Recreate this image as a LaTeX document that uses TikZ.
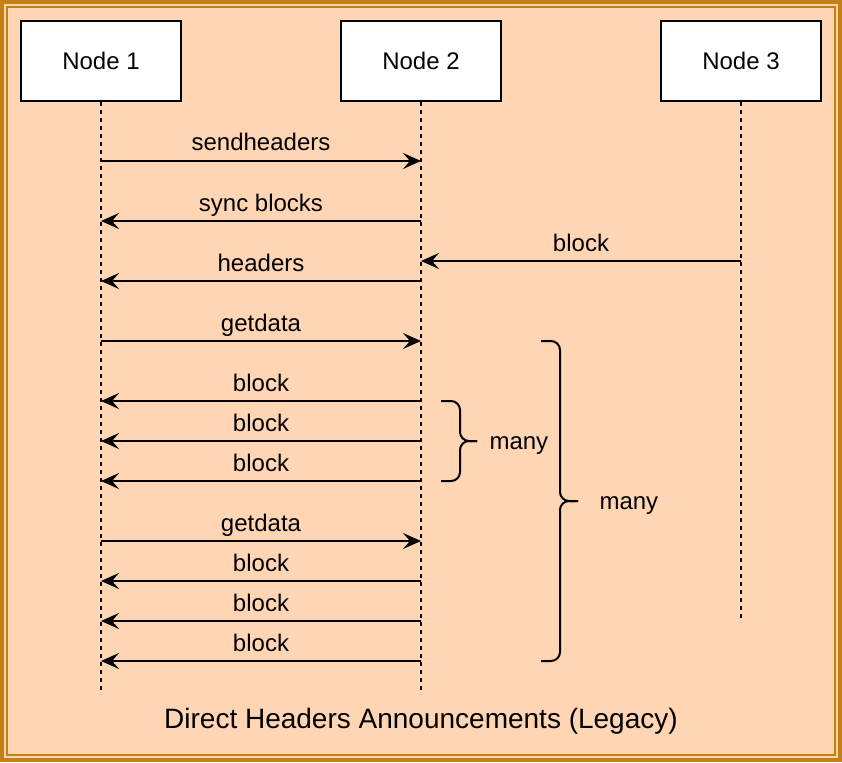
\documentclass[tikz,border=0pt]{standalone}
\usepackage{fontspec}
\setmainfont{Liberation Sans}
\usetikzlibrary{arrows.meta, positioning}
\definecolor{dhpeach}{HTML}{FFD5B3}
\definecolor{dhframe}{HTML}{C47F15}

\begin{document}
\begin{tikzpicture}[x=1pt, y=-1pt, every node/.style={font=\fontsize{24}{28}\selectfont},
    actor/.style={rectangle, draw, line width=2pt, fill=white, minimum width=160pt, minimum height=80pt},
    life/.style={line width=2pt, dash pattern=on 4pt off 4pt},
    msg/.style={line width=2pt, -{Stealth[length=18pt, width=16pt, inset=7pt]}},
    msglabel/.style={midway, anchor=base, yshift=10pt},
    brace/.style={line width=2pt, rounded corners=9pt}]
  \useasboundingbox (0,0) rectangle (842,762);

  % Background and frame
  \fill[dhpeach] (0,0) rectangle (842,762);
  \draw[dhframe, line width=4pt] (2,2) rectangle (840,760);
  \draw[dhframe, line width=1.5pt] (7,7) rectangle (835,755);

  % Participants
  \node[actor] (n1) at (101,61) {Node 1};
  \node[actor] (n2) at (421,61) {Node 2};
  \node[actor] (n3) at (741,61) {Node 3};

  % Lifelines
  \coordinate (e1) at (101,694);
  \coordinate (e2) at (421,694);
  \coordinate (e3) at (741,622);
  \draw[life] (n1.south) -- (e1);
  \draw[life] (n2.south) -- (e2);
  \draw[life] (n3.south) -- (e3);

  % Messages
  \draw[msg] (n1 |- 0,161) -- (n2 |- 0,161) node[msglabel] {sendheaders};
  \draw[msg] (n2 |- 0,221) -- (n1 |- 0,221) node[msglabel] {sync blocks};
  \draw[msg] (n3 |- 0,261) -- (n2 |- 0,261) node[msglabel] {block};
  \draw[msg] (n2 |- 0,281) -- (n1 |- 0,281) node[msglabel] {headers};
  \draw[msg] (n1 |- 0,341) -- (n2 |- 0,341) node[msglabel] {getdata};
  \draw[msg] (n2 |- 0,401) -- (n1 |- 0,401) node[msglabel] {block};
  \draw[msg] (n2 |- 0,441) -- (n1 |- 0,441) node[msglabel] {block};
  \draw[msg] (n2 |- 0,481) -- (n1 |- 0,481) node[msglabel] {block};
  \draw[msg] (n1 |- 0,541) -- (n2 |- 0,541) node[msglabel] {getdata};
  \draw[msg] (n2 |- 0,581) -- (n1 |- 0,581) node[msglabel] {block};
  \draw[msg] (n2 |- 0,621) -- (n1 |- 0,621) node[msglabel] {block};
  \draw[msg] (n2 |- 0,661) -- (n1 |- 0,661) node[msglabel] {block};

  % Braces
  \coordinate (b1) at (477,441);
  \coordinate (b2) at (578,501);
  \draw[brace] (441,401) -- (460,401) -- (460,441) -- (b1);
  \draw[brace] (441,481) -- (460,481) -- (460,441) -- (b1);
  \draw[brace] (541,341) -- (560,341) -- (560,501) -- (b2);
  \draw[brace] (541,661) -- (560,661) -- (560,501) -- (b2);
  \node[right=9pt of b1, yshift=-5pt] (m1) {many};
  \node[right=18pt of b2, yshift=-5pt] (m2) {many};

  % Caption
  \node[font=\fontsize{28}{33}\selectfont] (title) at (421,721) {Direct Headers Announcements (Legacy)};
\end{tikzpicture}
\end{document}
